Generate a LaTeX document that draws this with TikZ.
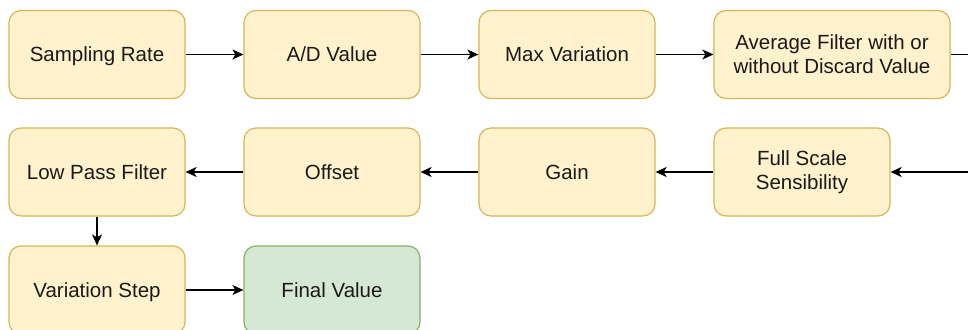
\documentclass[tikz,border=0pt]{standalone}
\usepackage{fontspec}
\setmainfont{Liberation Sans}
\usetikzlibrary{arrows.meta}
\definecolor{yfill}{HTML}{FFF2CC}
\definecolor{ydraw}{HTML}{D6B656}
\definecolor{gfill}{HTML}{D5E8D4}
\definecolor{gdraw}{HTML}{82B366}
\definecolor{txt}{HTML}{1A1A1A}
\begin{document}
\begin{tikzpicture}[x=1pt,y=-1pt,
  box/.style={rectangle, rounded corners=12pt, minimum width=176pt, minimum height=88pt,
    draw=ydraw, fill=yfill, line width=1.2pt, align=center, inner sep=0pt,
    text=txt, font=\fontsize{20.5}{24}\selectfont},
  one/.style={text height=19pt, text depth=4.3pt},
  gbox/.style={box, draw=gdraw, fill=gfill},
  conn/.style={line width=1.4pt, -{Stealth[length=11pt,width=10pt,inset=3pt]}}]
\useasboundingbox (0,0) rectangle (968,329);
\clip (0,0) rectangle (968,329);
\fill[white] (0,0) rectangle (968,329);
% row 1
\node[box, one] (sr) at (97,54.5) {Sampling Rate};
\node[box, one] (ad) at (332,54.5) {A/D Value};
\node[box, one] (mv) at (567,54.5) {Max Variation};
\node[box, minimum width=236pt] (af) at (832,54.5) {Average Filter with or\\without Discard Value};
% row 2
\node[box, one] (lp) at (97,172) {Low Pass Filter};
\node[box, one] (of) at (332,172) {Offset};
\node[box, one] (ga) at (567,172) {Gain};
\node[box] (fs) at (802,172) {Full Scale\\Sensibility};
% row 3
\node[box, one] (vs) at (97,290) {Variation Step};
\node[gbox, one] (fv) at (332,290) {Final Value};
% off-page turn
\coordinate (t1) at (990,54.5);
\coordinate (t2) at (990,172);
% connectors
\draw[conn] (sr) -- (ad);
\draw[conn] (ad) -- (mv);
\draw[conn] (mv) -- (af);
\draw[conn] (af.east) -- (t1) -- (t2) -- (fs.east);
\draw[conn] (fs) -- (ga);
\draw[conn] (ga) -- (of);
\draw[conn] (of) -- (lp);
\draw[conn] (lp) -- (vs);
\draw[conn] (vs) -- (fv);
\end{tikzpicture}
\end{document}
